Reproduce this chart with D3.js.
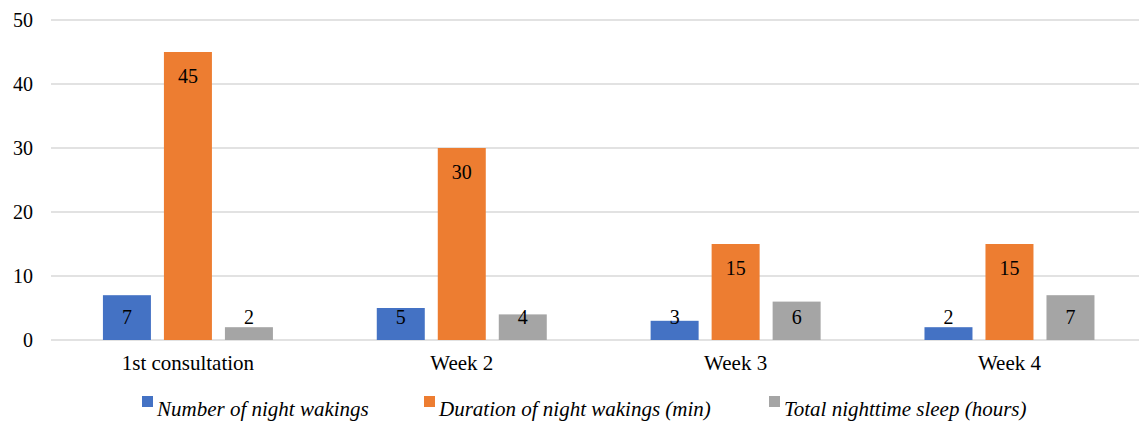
<!DOCTYPE html>
<html>
<head>
<meta charset="utf-8">
<script src="https://cdn.jsdelivr.net/npm/d3@7"></script>
<style>
  html, body { margin: 0; padding: 0; background: #fff; }
</style>
</head>
<body>
<svg id="chart" width="1139" height="426"></svg>
<script>
// Sleep diary over the follow-up period
const categories = ["1st consultation", "Week 2", "Week 3", "Week 4"];
const seriesNames = [
  "Number of night wakings",
  "Duration of night wakings (min)",
  "Total nighttime sleep (hours)"
];
const nightWakings = [7, 5, 3, 2];
const wakingDuration = [45, 30, 15, 15];
const totalSleep = [2, 4, 6, 7];
const yTicks = [0, 10, 20, 30, 40, 50];
const colors = ["#4472C4", "#ED7D31", "#A5A5A5"];

const seriesValues = [nightWakings, wakingDuration, totalSleep];
const serif = "'Liberation Serif', 'DejaVu Serif', serif";

const svg = d3.select("#chart");
const plotLeft = 51, plotRight = 1146.4, plotTop = 20, plotBottom = 340;

const x0 = d3.scaleBand().domain(categories).range([plotLeft, plotRight]).padding(0);
const x1 = d3.scaleBand().domain(seriesNames).range([0, 170]).paddingInner(13 / 61).paddingOuter(0);
const y = d3.scaleLinear().domain([0, 50]).range([plotBottom, plotTop]);

// Horizontal gridlines
svg.append("g")
  .selectAll("line")
  .data(yTicks)
  .join("line")
  .attr("x1", plotLeft)
  .attr("x2", 1139)
  .attr("y1", d => y(d))
  .attr("y2", d => y(d))
  .attr("stroke", "#D9D9D9")
  .attr("stroke-width", 1.5);

// Y axis labels
svg.append("g")
  .selectAll("text")
  .data(yTicks)
  .join("text")
  .attr("x", 33)
  .attr("y", d => y(d) + 6.5)
  .attr("text-anchor", "end")
  .style("font-family", serif)
  .style("font-size", "20px")
  .attr("fill", "#000")
  .text(d => d);

// Bars
const groups = svg.append("g")
  .selectAll("g")
  .data(categories)
  .join("g")
  .attr("transform", d => `translate(${x0(d) + x0.bandwidth() / 2 - 85},0)`);

const cells = (c, i) => seriesNames.map((s, k) => ({ s, k, v: seriesValues[k][i] }));

groups.selectAll("rect")
  .data(cells)
  .join("rect")
  .attr("x", d => x1(d.s))
  .attr("width", x1.bandwidth())
  .attr("y", d => y(d.v))
  .attr("height", d => y(0) - y(d.v))
  .attr("fill", d => colors[d.k]);

// Value labels: inside the top of the bar, kept above the baseline for short bars
groups.selectAll("text")
  .data(cells)
  .join("text")
  .attr("x", d => x1(d.s) + x1.bandwidth() / 2)
  .attr("y", d => Math.min(y(d.v) + 31, y(0) - 16.5))
  .attr("text-anchor", "middle")
  .style("font-family", serif)
  .style("font-size", "20px")
  .attr("fill", "#000")
  .text(d => d.v);

// Category labels
svg.append("g")
  .selectAll("text")
  .data(categories)
  .join("text")
  .attr("x", d => x0(d) + x0.bandwidth() / 2)
  .attr("y", 370)
  .attr("text-anchor", "middle")
  .style("font-family", serif)
  .style("font-size", "21px")
  .attr("fill", "#000")
  .text(d => d);

// Legend
const legendX = [142, 424, 769];
const legend = svg.append("g")
  .selectAll("g")
  .data(seriesNames)
  .join("g")
  .attr("transform", (d, i) => `translate(${legendX[i]},0)`);

legend.append("rect")
  .attr("x", 0)
  .attr("y", 396)
  .attr("width", 11)
  .attr("height", 11)
  .attr("fill", (d, i) => colors[i]);

legend.append("text")
  .attr("x", 15)
  .attr("y", 416)
  .style("font-family", serif)
  .style("font-size", "21px")
  .style("font-style", "italic")
  .attr("fill", "#000")
  .text(d => d);
</script>
</body>
</html>
